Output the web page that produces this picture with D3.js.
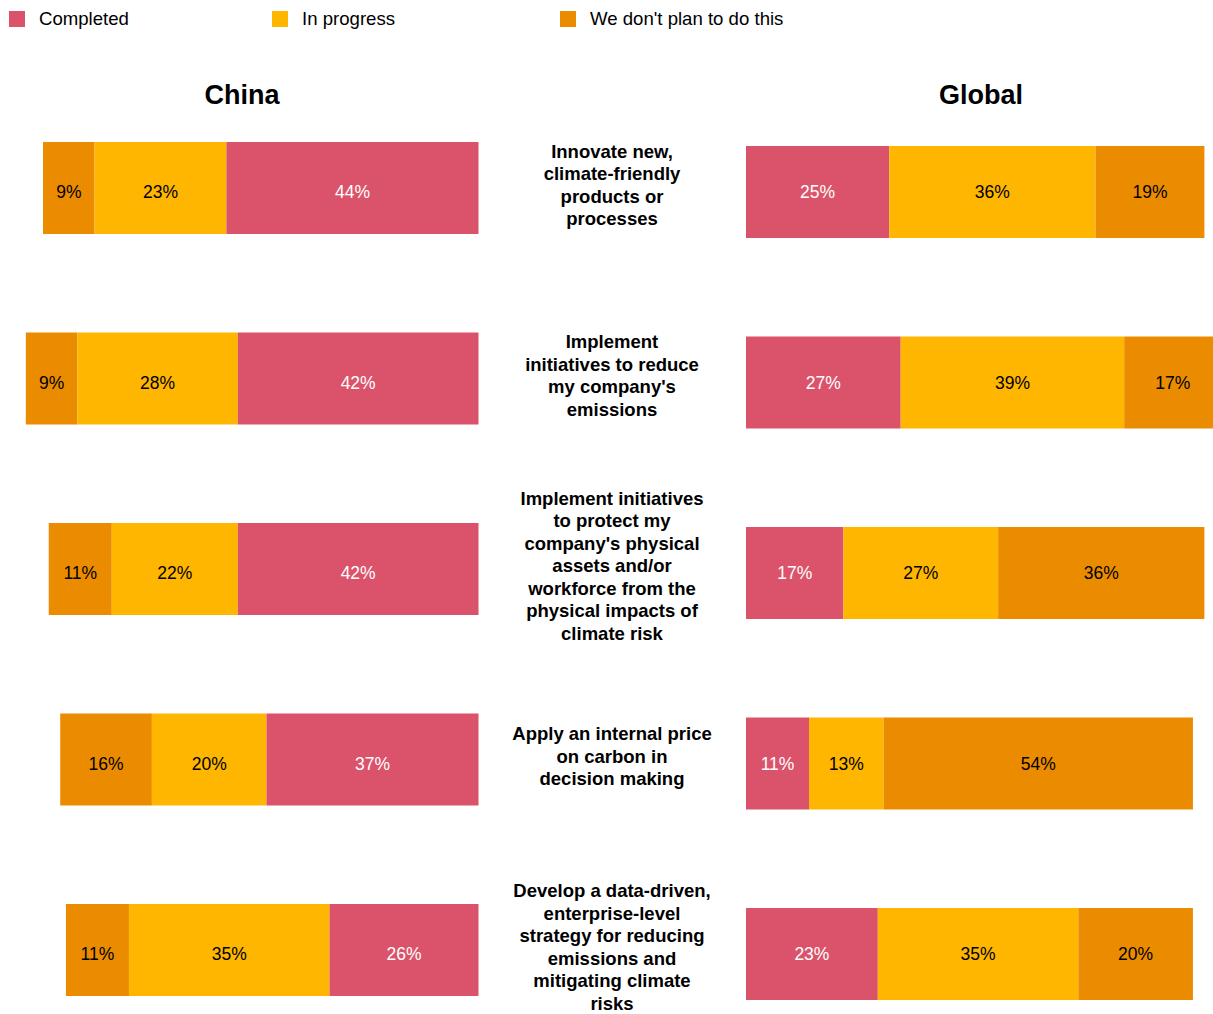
<!DOCTYPE html>
<html>
<head>
<meta charset="utf-8">
<script src="https://cdn.jsdelivr.net/npm/d3@7"></script>
<style>
  html, body { margin: 0; padding: 0; background: #fff; }
  svg { display: block; font-family: "Liberation Sans", Arial, sans-serif; }
</style>
</head>
<body>
<svg id="chart" width="1213" height="1014"></svg>
<script>
// Survey answers, percent of respondents
const statuses = ["Completed", "In progress", "We don't plan to do this"];
const categories = [
  "Innovate new, climate-friendly products or processes",
  "Implement initiatives to reduce my company's emissions",
  "Implement initiatives to protect my company's physical assets and/or workforce from the physical impacts of climate risk",
  "Apply an internal price on carbon in decision making",
  "Develop a data-driven, enterprise-level strategy for reducing emissions and mitigating climate risks"
];
const categoryLines = [
  ["Innovate new,", "climate-friendly", "products or", "processes"],
  ["Implement", "initiatives to reduce", "my company's", "emissions"],
  ["Implement initiatives", "to protect my", "company's physical", "assets and/or", "workforce from the", "physical impacts of", "climate risk"],
  ["Apply an internal price", "on carbon in", "decision making"],
  ["Develop a data-driven,", "enterprise-level", "strategy for reducing", "emissions and", "mitigating climate", "risks"]
];
const chinaCompleted  = [44, 42, 42, 37, 26];
const chinaInProgress = [23, 28, 22, 20, 35];
const chinaNoPlan     = [9, 9, 11, 16, 11];
const globalCompleted  = [25, 27, 17, 11, 23];
const globalInProgress = [36, 39, 27, 13, 35];
const globalNoPlan     = [19, 17, 36, 54, 20];
const panelTitles = ["China", "Global"];

const colors = {
  "Completed": "#DB536A",
  "In progress": "#FFB600",
  "We don't plan to do this": "#EB8C00"
};
const textColors = {
  "Completed": "#ffffff",
  "In progress": "#000000",
  "We don't plan to do this": "#000000"
};

const svg = d3.select("#chart");

// Legend
const legendX = d3.scaleOrdinal().domain(statuses).range([9, 272, 560]);
const legend = svg.append("g").selectAll("g").data(statuses).join("g")
  .attr("transform", d => `translate(${legendX(d)},11)`);
legend.append("rect").attr("width", 16).attr("height", 16).attr("fill", d => colors[d]);
legend.append("text").attr("x", 30).attr("y", 14)
  .attr("font-size", 18.6).attr("fill", "#000").text(d => d);

// Scales
const x = d3.scaleLinear().domain([0, 100]).range([0, 573]);
const rowY = d3.scalePoint().domain(categories).range([188, 950]);
const barH = 92;

const chinaRight = 478.5;
const globalLeft = 746;
const globalShift = 4;

// Panel titles
svg.append("g").selectAll("text").data(panelTitles).join("text")
  .attr("x", (d, i) => i === 0 ? 242 : 981)
  .attr("y", 104)
  .attr("text-anchor", "middle")
  .attr("font-size", 27)
  .attr("font-weight", "bold")
  .text(d => d);

// Build segment records
function segments(order, values, direction) {
  const out = [];
  categories.forEach((c, i) => {
    const vals = order.map(s => values[s][i]);
    const total = d3.sum(vals);
    let acc = 0;
    order.forEach((s, k) => {
      const v = vals[k];
      const start = direction === "right" ? chinaRight - x(total) + x(acc) : globalLeft + x(acc);
      out.push({ cat: c, status: s, value: v, x0: start, w: x(v) });
      acc += v;
    });
  });
  return out;
}

const chinaSegs = segments(
  ["We don't plan to do this", "In progress", "Completed"],
  { "Completed": chinaCompleted, "In progress": chinaInProgress, "We don't plan to do this": chinaNoPlan },
  "right"
);
const globalSegs = segments(
  ["Completed", "In progress", "We don't plan to do this"],
  { "Completed": globalCompleted, "In progress": globalInProgress, "We don't plan to do this": globalNoPlan },
  "left"
);

function drawBars(segs, shift) {
  const g = svg.append("g");
  g.selectAll("rect").data(segs).join("rect")
    .attr("x", d => d.x0)
    .attr("y", d => rowY(d.cat) + shift - barH / 2)
    .attr("width", d => d.w)
    .attr("height", barH)
    .attr("fill", d => colors[d.status]);
  // value labels of both panels sit on a common baseline per row
  g.selectAll("text").data(segs).join("text")
    .attr("x", d => d.x0 + d.w / 2)
    .attr("y", d => rowY(d.cat) + globalShift)
    .attr("dy", "0.35em")
    .attr("text-anchor", "middle")
    .attr("font-size", 17.5)
    .attr("fill", d => textColors[d.status])
    .text(d => d.value + "%");
}
drawBars(chinaSegs, 0);
drawBars(globalSegs, globalShift);

// Category labels in the middle column
const lineH = 22.5;
const labels = svg.append("g").selectAll("text").data(categories).join("text")
  .attr("text-anchor", "middle")
  .attr("font-size", 18.5)
  .attr("font-weight", "bold")
  .attr("fill", "#000");
labels.each(function (c, i) {
  const lines = categoryLines[i];
  const cy = rowY(c) - 3;
  const top = cy - (lines.length - 1) * lineH / 2;
  d3.select(this).selectAll("tspan").data(lines).join("tspan")
    .attr("x", 612)
    .attr("y", (d, k) => top + k * lineH)
    .attr("dy", "0.35em")
    .text(d => d);
});
</script>
</body>
</html>
